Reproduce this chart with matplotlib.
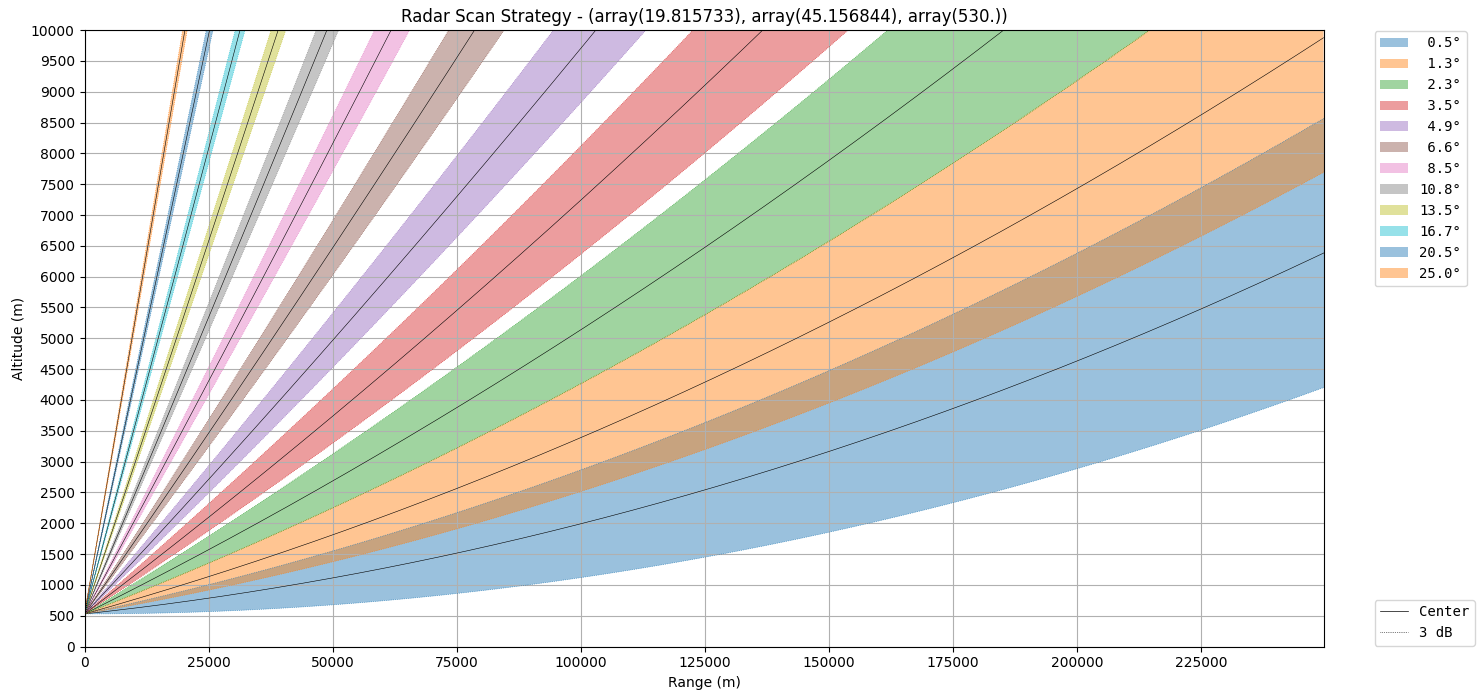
import numpy as np
import matplotlib
matplotlib.use("Agg")
import matplotlib.pyplot as plt
from matplotlib.lines import Line2D

elevations = [0.5, 1.3, 2.3, 3.5, 4.9, 6.6, 8.5, 10.8, 13.5, 16.7, 20.5, 25.0]
beamwidth = 1.0
radar_alt = 530.0
max_range = 250000.0
title = "Radar Scan Strategy - (array(19.815733), array(45.156844), array(530.))"

ke_a = 4.0 / 3.0 * 6371000.0
r = np.linspace(0, max_range, 1000)

def beam(elev):
    th = np.deg2rad(elev)
    h = np.sqrt(r**2 + ke_a**2 + 2 * r * ke_a * np.sin(th)) - ke_a
    s = ke_a * np.arcsin(r * np.cos(th) / (ke_a + h))
    return s, h + radar_alt

fig, ax = plt.subplots(figsize=(14.83, 6.99), dpi=100)
colors = plt.rcParams['axes.prop_cycle'].by_key()['color']
handles = []
xmax = 0
for i, e in enumerate(elevations):
    c = colors[i % 10]
    s0, h0 = beam(e)
    sl, hl = beam(e - beamwidth / 2)
    su, hu = beam(e + beamwidth / 2)
    xmax = max(xmax, s0.max())
    poly = np.concatenate([np.c_[sl, hl], np.c_[su[::-1], hu[::-1]]])
    p = ax.fill(poly[:, 0], poly[:, 1], color=c, alpha=0.45, lw=0, label=f"{e:4.1f}°")[0]
    handles.append(p)
    ax.plot(s0, h0, color='k', lw=0.4)
    ax.plot(sl, hl, color=c, lw=0.5, ls=':')
    ax.plot(su, hu, color=c, lw=0.5, ls=':')

ax.set_xlim(0, xmax)
ax.set_ylim(0, 10000)
ax.set_yticks(np.arange(0, 10001, 500))
ax.set_xticks(np.arange(0, 225001, 25000))
ax.grid(True)
ax.set_xlabel("Range (m)")
ax.set_ylabel("Altitude (m)")
ax.set_title(title)

leg1 = ax.legend(handles=handles, loc='upper left', bbox_to_anchor=(1.035, 1.01),
                 prop={'family': 'monospace'})
ax.add_artist(leg1)
lh = [Line2D([], [], color='k', lw=0.5), Line2D([], [], color='k', lw=0.5, ls=':')]
ax.legend(lh, ["Center", "3 dB"], loc='lower left', bbox_to_anchor=(1.035, -0.01),
          prop={'family': 'monospace'})
fig.subplots_adjust(left=0.057, right=0.893, top=0.957, bottom=0.075)
fig.savefig("out.png")
